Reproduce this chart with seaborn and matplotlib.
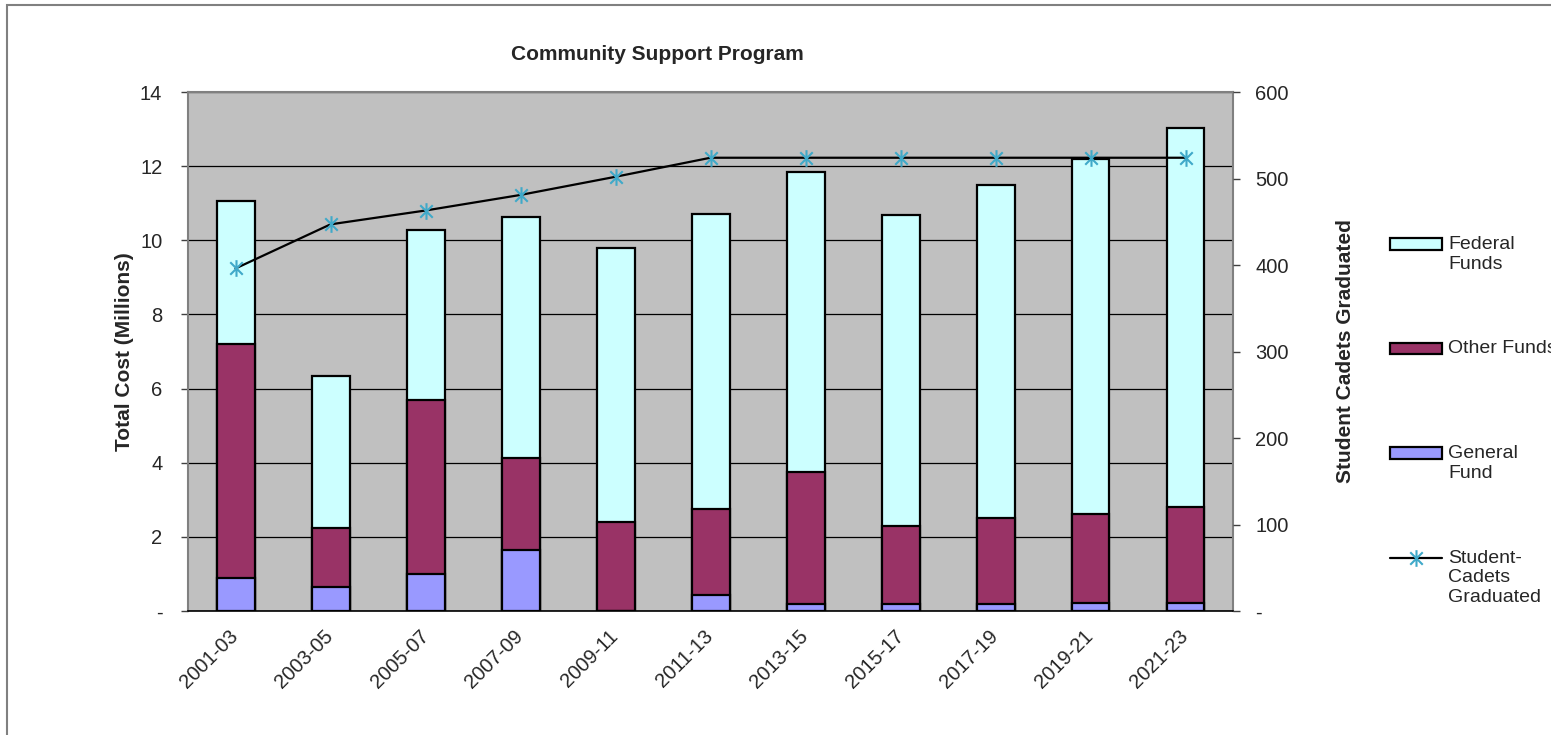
import numpy as np
import pandas as pd
import seaborn as sns
import matplotlib
matplotlib.use('Agg')
import matplotlib.pyplot as plt
from matplotlib.path import Path
from matplotlib.patches import Rectangle

# =========================
#  DATA
# =========================

bienniums = ['2001-03', '2003-05', '2005-07', '2007-09', '2009-11', '2011-13',
             '2013-15', '2015-17', '2017-19', '2019-21', '2021-23']

# millions of dollars
general_fund = [0.88, 0.64, 0.99, 1.64, 0.0, 0.43, 0.20, 0.20, 0.20, 0.21, 0.21]
other_funds = [6.31, 1.60, 4.70, 2.50, 2.41, 2.31, 3.56, 2.10, 2.30, 2.40, 2.60]
federal_funds = [3.88, 4.09, 4.60, 6.49, 7.38, 7.97, 8.08, 8.39, 9.00, 9.58, 10.21]

cadets_graduated = [396, 447, 463, 481, 502, 524, 524, 524, 524, 524, 524]

left_ticks = [0, 2, 4, 6, 8, 10, 12, 14]
right_ticks = [0, 100, 200, 300, 400, 500, 600]

# =========================
#  STYLE
# =========================

sns.set_style('white')
plt.rcParams['font.family'] = ['Liberation Sans', 'DejaVu Sans']

C_FED = '#CCFFFF'
C_OTHER = '#993366'
C_GEN = '#9999FF'
C_PLOT = '#C0C0C0'
C_MARK = '#3FA9C9'
FS_TICK = 14.5
FS_LABEL = 15
FS_LEG = 14

# asterisk marker: vertical stroke plus an X
star = Path([(0, -1), (0, 1), (-0.75, -0.75), (0.75, 0.75), (-0.75, 0.75), (0.75, -0.75)],
            [Path.MOVETO, Path.LINETO, Path.MOVETO, Path.LINETO, Path.MOVETO, Path.LINETO])

df = pd.DataFrame({
    'biennium': bienniums,
    'general': general_fund,
    'other': other_funds,
    'federal': federal_funds,
    'cadets': cadets_graduated,
})
df['top_other'] = df['general'] + df['other']
df['top_federal'] = df['top_other'] + df['federal']

W, H = 1551, 735
fig = plt.figure(figsize=(W / 100, H / 100), dpi=100)
ax = fig.add_axes([188 / W, 1 - 611 / H, (1233 - 188) / W, (611 - 92) / H])
ax.set_facecolor(C_PLOT)

# legend labels padded so the handle sits on the first text line (Excel style)
bar_kw = dict(width=0.4, edgecolor='black', linewidth=1.6, saturation=1, ax=ax)
sns.barplot(data=df, x='biennium', y='top_federal', color=C_FED,
            label='\n\nFederal\nFunds\n', **bar_kw)
sns.barplot(data=df, x='biennium', y='top_other', color=C_OTHER,
            label='\n\nOther Funds\n\n', **bar_kw)
sns.barplot(data=df, x='biennium', y='general', color=C_GEN,
            label='\n\nGeneral\nFund\n', **bar_kw)

ax.set_xlim(-0.5, len(bienniums) - 0.5)
ax.set_ylim(0, 14)
ax.set_yticks(left_ticks)
ax.set_yticklabels(['-' if t == 0 else str(t) for t in left_ticks], fontsize=FS_TICK)
ax.yaxis.grid(True, color='black', linewidth=0.9)
ax.set_axisbelow(True)

ax.set_xticks(range(len(bienniums)))
ax.set_xticklabels(bienniums, rotation=45, ha='right', va='center',
                   rotation_mode='anchor', fontsize=FS_TICK)
ax.set_xticks(np.arange(-0.5, len(bienniums)), minor=True)
ax.tick_params(axis='x', which='major', length=0, pad=16)
ax.tick_params(axis='x', which='minor', length=6, width=1, color='black', direction='out')
ax.tick_params(axis='y', length=5, width=1, color='#404040', direction='out', pad=13.5, left=True)
ax.set_xlabel('')
ax.set_ylabel('Total Cost (Millions)', fontsize=FS_LABEL, fontweight='bold', labelpad=4)

for side in ['top', 'right', 'left']:
    ax.spines[side].set_color('#808080')
    ax.spines[side].set_linewidth(1.5)
ax.spines['bottom'].set_color('black')
ax.spines['bottom'].set_linewidth(1.2)

# =========================
#  SECOND AXIS: GRADUATES
# =========================

ax2 = ax.twinx()
sns.lineplot(x=np.arange(len(bienniums)), y=df['cadets'], ax=ax2, color='black',
             linewidth=1.6, marker=star, markersize=12, markeredgecolor=C_MARK,
             markerfacecolor='none', markeredgewidth=1.5,
             label='\n\nStudent-\nCadets\nGraduated')
if ax2.get_legend() is not None:
    ax2.get_legend().remove()
ax2.set_ylim(0, 600)
ax2.set_xlim(-0.5, len(bienniums) - 0.5)
ax2.set_yticks(right_ticks)
ax2.set_yticklabels(['-' if t == 0 else str(t) for t in right_ticks], fontsize=FS_TICK)
ax2.tick_params(axis='y', length=5, width=1, color='#404040', direction='out', pad=11, right=True)
ax2.set_ylabel('Student Cadets Graduated', fontsize=FS_LABEL, fontweight='bold', labelpad=34)
for side in ['top', 'right', 'left', 'bottom']:
    ax2.spines[side].set_visible(False)
ax.spines['right'].set_visible(True)

fig.text(657 / W, 1 - 55 / H, 'Community Support Program', fontsize=15,
         fontweight='bold', ha='center', va='center')

# =========================
#  LEGEND
# =========================

h1, l1 = ax.get_legend_handles_labels()
h2, l2 = ax2.get_legend_handles_labels()
if ax.get_legend() is not None:
    ax.get_legend().remove()
leg = fig.legend(h1 + h2, l1 + l2, loc='upper left',
                 bbox_to_anchor=(1380 / W, 1 - 187 / H), frameon=False,
                 fontsize=FS_LEG, handlelength=2.7, handleheight=0.55,
                 handletextpad=0.3, labelspacing=0.47, borderpad=0)
for t in leg.get_texts():
    t.set_linespacing(1.2)

# outer chart frame
fig.patches.append(Rectangle((7 / W, -0.02), 1.0, 1.02 - 5 / H, transform=fig.transFigure,
                             fill=False, edgecolor='#808080', linewidth=1.5))

fig.savefig('out.png', dpi=100)
plt.close(fig)
